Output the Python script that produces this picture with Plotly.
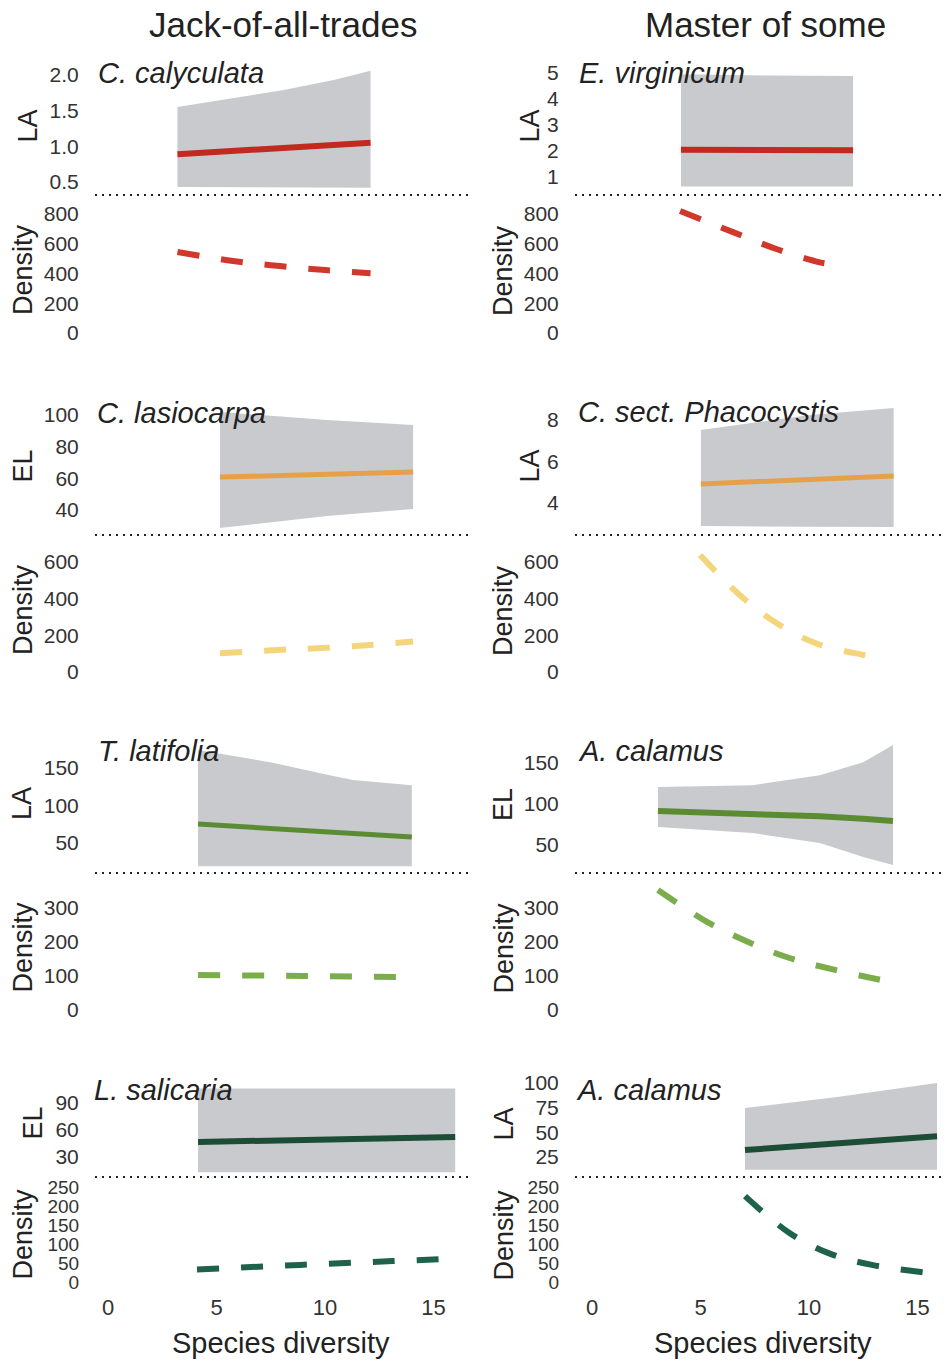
import plotly.graph_objects as go

# ---------------- data ----------------
column_titles = ["Jack-of-all-trades", "Master of some"]
x_title = "Species diversity"
x_ticks = [0, 5, 10, 15]

species = ["C. calyculata", "E. virginicum", "C. lasiocarpa", "C. sect. Phacocystis",
           "T. latifolia", "A. calamus", "L. salicaria", "A. calamus"]
traits = ["LA", "LA", "EL", "LA", "LA", "EL", "EL", "LA"]

trait_tickvals = [[0.5, 1.0, 1.5, 2.0], [1, 2, 3, 4, 5], [40, 60, 80, 100], [4, 6, 8],
                  [50, 100, 150], [50, 100, 150], [30, 60, 90], [25, 50, 75, 100]]
trait_ticktext = [["0.5", "1.0", "1.5", "2.0"], ["1", "2", "3", "4", "5"],
                  ["40", "60", "80", "100"], ["4", "6", "8"],
                  ["50", "100", "150"], ["50", "100", "150"], ["30", "60", "90"],
                  ["25", "50", "75", "100"]]
dens_tickvals = [[0, 200, 400, 600, 800], [0, 200, 400, 600, 800],
                 [0, 200, 400, 600], [0, 200, 400, 600],
                 [0, 100, 200, 300], [0, 100, 200, 300],
                 [0, 50, 100, 150, 200, 250], [0, 50, 100, 150, 200, 250]]

# C. calyculata (LA)
calyculata_x = [3.2, 5.8, 8.1, 10.4, 12.1]
calyculata_upper = [1.55, 1.68, 1.79, 1.93, 2.06]
calyculata_lower = [0.43, 0.43, 0.43, 0.42, 0.42]
calyculata_fit = [0.89, 0.94, 0.98, 1.02, 1.05]
calyculata_dens_x = [3.2, 5.76, 7.93, 10.0, 12.1]
calyculata_dens = [545, 484, 450, 423, 401]

# E. virginicum (LA)
virginicum_x = [4.1, 8.0, 12.03]
virginicum_upper = [4.95, 4.9, 4.88]
virginicum_lower = [0.63, 0.63, 0.63]
virginicum_fit = [2.05, 2.04, 2.03]
virginicum_dens_x = [4.06, 6.5, 8.53, 10.5, 11.06]
virginicum_dens = [820, 678, 563, 475, 461]

# C. lasiocarpa (EL)
lasiocarpa_x = [5.16, 10.1, 14.06]
lasiocarpa_upper = [101.9, 96.9, 93.7]
lasiocarpa_lower = [28.6, 36.2, 40.6]
lasiocarpa_fit = [60.8, 62.6, 64.0]
lasiocarpa_dens_x = [5.16, 7.78, 9.86, 12.07, 14.06]
lasiocarpa_dens = [102, 120, 131, 147, 166]

# C. sect. Phacocystis (LA)
phacocystis_x = [5.02, 7.4, 10.05, 13.9]
phacocystis_upper = [7.52, 7.86, 8.24, 8.58]
phacocystis_lower = [2.89, 2.88, 2.86, 2.84]
phacocystis_fit = [4.92, 5.02, 5.13, 5.30]
phacocystis_dens_x = [4.98, 6.9, 8.5, 10.4, 12.5, 12.95]
phacocystis_dens = [638, 410, 267, 153, 93, 82]

# T. latifolia (LA)
latifolia_x = [4.15, 7.6, 10.1, 11.3, 14.0]
latifolia_upper = [174, 157, 141, 134, 127]
latifolia_lower = [19, 19, 19, 19, 19]
latifolia_fit = [75.3, 69.3, 65.0, 62.9, 58.0]
latifolia_dens_x = [4.15, 9.0, 13.6]
latifolia_dens = [103, 100, 97]

# A. calamus (EL)
calamus_el_x = [3.04, 7.4, 10.5, 12.5, 13.87]
calamus_el_upper = [120.7, 123, 135, 151, 172]
calamus_el_lower = [72, 64.6, 52.4, 35.4, 25.6]
calamus_el_fit = [91.5, 88, 85, 82, 79.3]
calamus_el_dens_x = [3.04, 5.3, 7.2, 9.1, 11.2, 13.8]
calamus_el_dens = [353, 259, 200, 153, 118, 82]

# L. salicaria (EL)
salicaria_x = [4.15, 10.0, 16.0]
salicaria_upper = [106, 106, 106]
salicaria_lower = [13, 13, 13]
salicaria_fit = [46.7, 49.4, 52.2]
salicaria_dens_x = [4.1, 8.85, 13.1, 15.8]
salicaria_dens = [33, 45, 55, 61]

# A. calamus (LA)
calamus_la_x = [7.05, 11.3, 15.9]
calamus_la_upper = [74.6, 85.8, 100]
calamus_la_lower = [12, 12, 12]
calamus_la_fit = [32, 38.5, 46]
calamus_la_dens_x = [7.05, 9.1, 10.9, 12.9, 15.5, 15.9]
calamus_la_dens = [226, 129, 76, 45, 24, 22]

panels = [
    (calyculata_x, calyculata_upper, calyculata_lower, calyculata_fit, calyculata_dens_x, calyculata_dens),
    (virginicum_x, virginicum_upper, virginicum_lower, virginicum_fit, virginicum_dens_x, virginicum_dens),
    (lasiocarpa_x, lasiocarpa_upper, lasiocarpa_lower, lasiocarpa_fit, lasiocarpa_dens_x, lasiocarpa_dens),
    (phacocystis_x, phacocystis_upper, phacocystis_lower, phacocystis_fit, phacocystis_dens_x, phacocystis_dens),
    (latifolia_x, latifolia_upper, latifolia_lower, latifolia_fit, latifolia_dens_x, latifolia_dens),
    (calamus_el_x, calamus_el_upper, calamus_el_lower, calamus_el_fit, calamus_el_dens_x, calamus_el_dens),
    (salicaria_x, salicaria_upper, salicaria_lower, salicaria_fit, salicaria_dens_x, salicaria_dens),
    (calamus_la_x, calamus_la_upper, calamus_la_lower, calamus_la_fit, calamus_la_dens_x, calamus_la_dens),
]

# ---------------- styling / layout ----------------
W, H = 945, 1363
FONT = "Liberation Sans, Arial, Helvetica, sans-serif"
BAND = "rgb(200,202,206)"
fit_colors = ["#c2291f", "#c2291f", "#e6a04a", "#e6a04a", "#5b8c33", "#5b8c33", "#1c4d36", "#1c4d36"]
dens_colors = ["#d2372b", "#d2372b", "#f5d57c", "#f5d57c", "#7cad4c", "#7cad4c", "#1f624a", "#1f624a"]
fit_widths = [6, 6, 5, 5, 5, 6, 6, 6]


def px(p):
    return p / W


def py(p):
    return 1 - p / H


col_dom = [(95, 470), (575, 945)]
col_zero = [108, 592]
ppu = 21.7
rows_dom = [((58, 195), (195, 345)), ((398, 535), (535, 685)),
            ((735, 873), (873, 1022)), ((1070, 1177), (1177, 1292))]
trait_cal = [((0.5, 182), (2.0, 75)), ((1, 177), (5, 73)), ((40, 510), (100, 415)),
             ((4, 503), (8, 420)), ((50, 843), (150, 768)), ((50, 845), (150, 763)),
             ((30, 1157), (90, 1103)), ((25, 1157), (100, 1083))]
dens_cal = [((0, 333), (800, 214))] * 2 + [((0, 672), (600, 562))] * 2 + \
           [((0, 1010), (300, 908))] * 2 + [((0, 1282), (250, 1187))] * 2
trait_title_x = [27, 529, 23, 530, 22, 503, 32, 503]
dens_title_x = [23, 503, 23, 503, 22, 503, 22, 503]
label_pos = [(96, 73), (577, 73), (95, 413), (576, 412), (96, 751), (576, 751), (92, 1090), (574, 1090)]


def yrange(cal, top, bottom):
    (v1, p1), (v2, p2) = cal
    s = (p1 - p2) / (v2 - v1)
    return [v1 + (p1 - bottom) / s, v1 + (p1 - top) / s]


fig = go.Figure()
layout = {}
annotations = []
shapes = []

for k, (xs, up, lo, fit, dx, dv) in enumerate(panels):
    row, col = divmod(k, 2)
    a, b = col_dom[col]
    xr = [(a - col_zero[col]) / ppu, (b - col_zero[col]) / ppu]
    for j in range(2):
        n = 2 * k + 1 + j
        xname = "x" if n == 1 else f"x{n}"
        yname = "y" if n == 1 else f"y{n}"
        top, bottom = rows_dom[row][j]
        cal = trait_cal[k] if j == 0 else dens_cal[k]
        show_x = (row == 3 and j == 1)
        layout["xaxis" if n == 1 else f"xaxis{n}"] = dict(
            domain=[px(a), px(b)], range=xr, anchor=yname,
            showgrid=False, zeroline=False, showline=False,
            tickvals=x_ticks, showticklabels=show_x, ticks="",
            tickfont=dict(family=FONT, size=22, color="#333"))
        if j == 0:
            tv, tt = trait_tickvals[k], trait_ticktext[k]
        else:
            tv = dens_tickvals[k]
            tt = [str(v) for v in tv]
        tsize = 19 if (row == 3 and j == 1) else 21
        layout["yaxis" if n == 1 else f"yaxis{n}"] = dict(
            domain=[py(bottom), py(top)], range=yrange(cal, top, bottom), anchor=xname,
            showgrid=False, zeroline=False, showline=False,
            tickvals=tv, ticktext=tt, ticks="outside", ticklen=11,
            tickcolor="rgba(0,0,0,0)",
            tickfont=dict(family=FONT, size=tsize, color="#333"))
        # y-axis title
        annotations.append(dict(
            text=traits[k] if j == 0 else "Density", textangle=-90,
            x=px(trait_title_x[k] if j == 0 else dens_title_x[k]), y=py((top + bottom) / 2),
            xref="paper", yref="paper", xanchor="center", yanchor="middle",
            showarrow=False, font=dict(family=FONT, size=27, color="#222")))
        if j == 0:
            fig.add_trace(go.Scatter(
                x=xs + xs[::-1], y=up + lo[::-1], fill="toself", fillcolor=BAND,
                mode="lines", line=dict(width=0), xaxis=xname, yaxis=yname,
                hoverinfo="skip", showlegend=False))
            fig.add_trace(go.Scatter(
                x=xs, y=fit, mode="lines", line=dict(color=fit_colors[k], width=fit_widths[k]),
                xaxis=xname, yaxis=yname, showlegend=False))
        else:
            fig.add_trace(go.Scatter(
                x=dx, y=dv, mode="lines",
                line=dict(color=dens_colors[k], width=6, dash="22px,22px", shape="spline"),
                xaxis=xname, yaxis=yname, showlegend=False))
    # dotted separator line between trait and density panels
    yb = rows_dom[row][0][1]
    shapes.append(dict(type="line", xref="paper", yref="paper",
                       x0=px(a), x1=px(b), y0=py(yb), y1=py(yb),
                       line=dict(color="#222", width=2, dash="2px,5px")))
    # species label
    lx, ly = label_pos[k]
    annotations.append(dict(
        text=f"<i>{species[k]}</i>", x=px(lx), y=py(ly), xref="paper", yref="paper",
        xanchor="left", yanchor="middle", showarrow=False,
        font=dict(family=FONT, size=29, color="#222")))

# column titles and x titles
for col, cx in enumerate([283, 765]):
    annotations.append(dict(text=column_titles[col], x=px(cx), y=py(25), xref="paper", yref="paper",
                            xanchor="center", yanchor="middle", showarrow=False,
                            font=dict(family=FONT, size=35, color="#222")))
for cx in [281, 763]:
    annotations.append(dict(text=x_title, x=px(cx), y=py(1343), xref="paper", yref="paper",
                            xanchor="center", yanchor="middle", showarrow=False,
                            font=dict(family=FONT, size=29, color="#222")))

fig.update_layout(layout)
fig.update_layout(width=W, height=H, margin=dict(l=0, r=0, t=0, b=0),
                  paper_bgcolor="white", plot_bgcolor="white",
                  annotations=annotations, shapes=shapes, showlegend=False)
fig.write_html("out.html")
